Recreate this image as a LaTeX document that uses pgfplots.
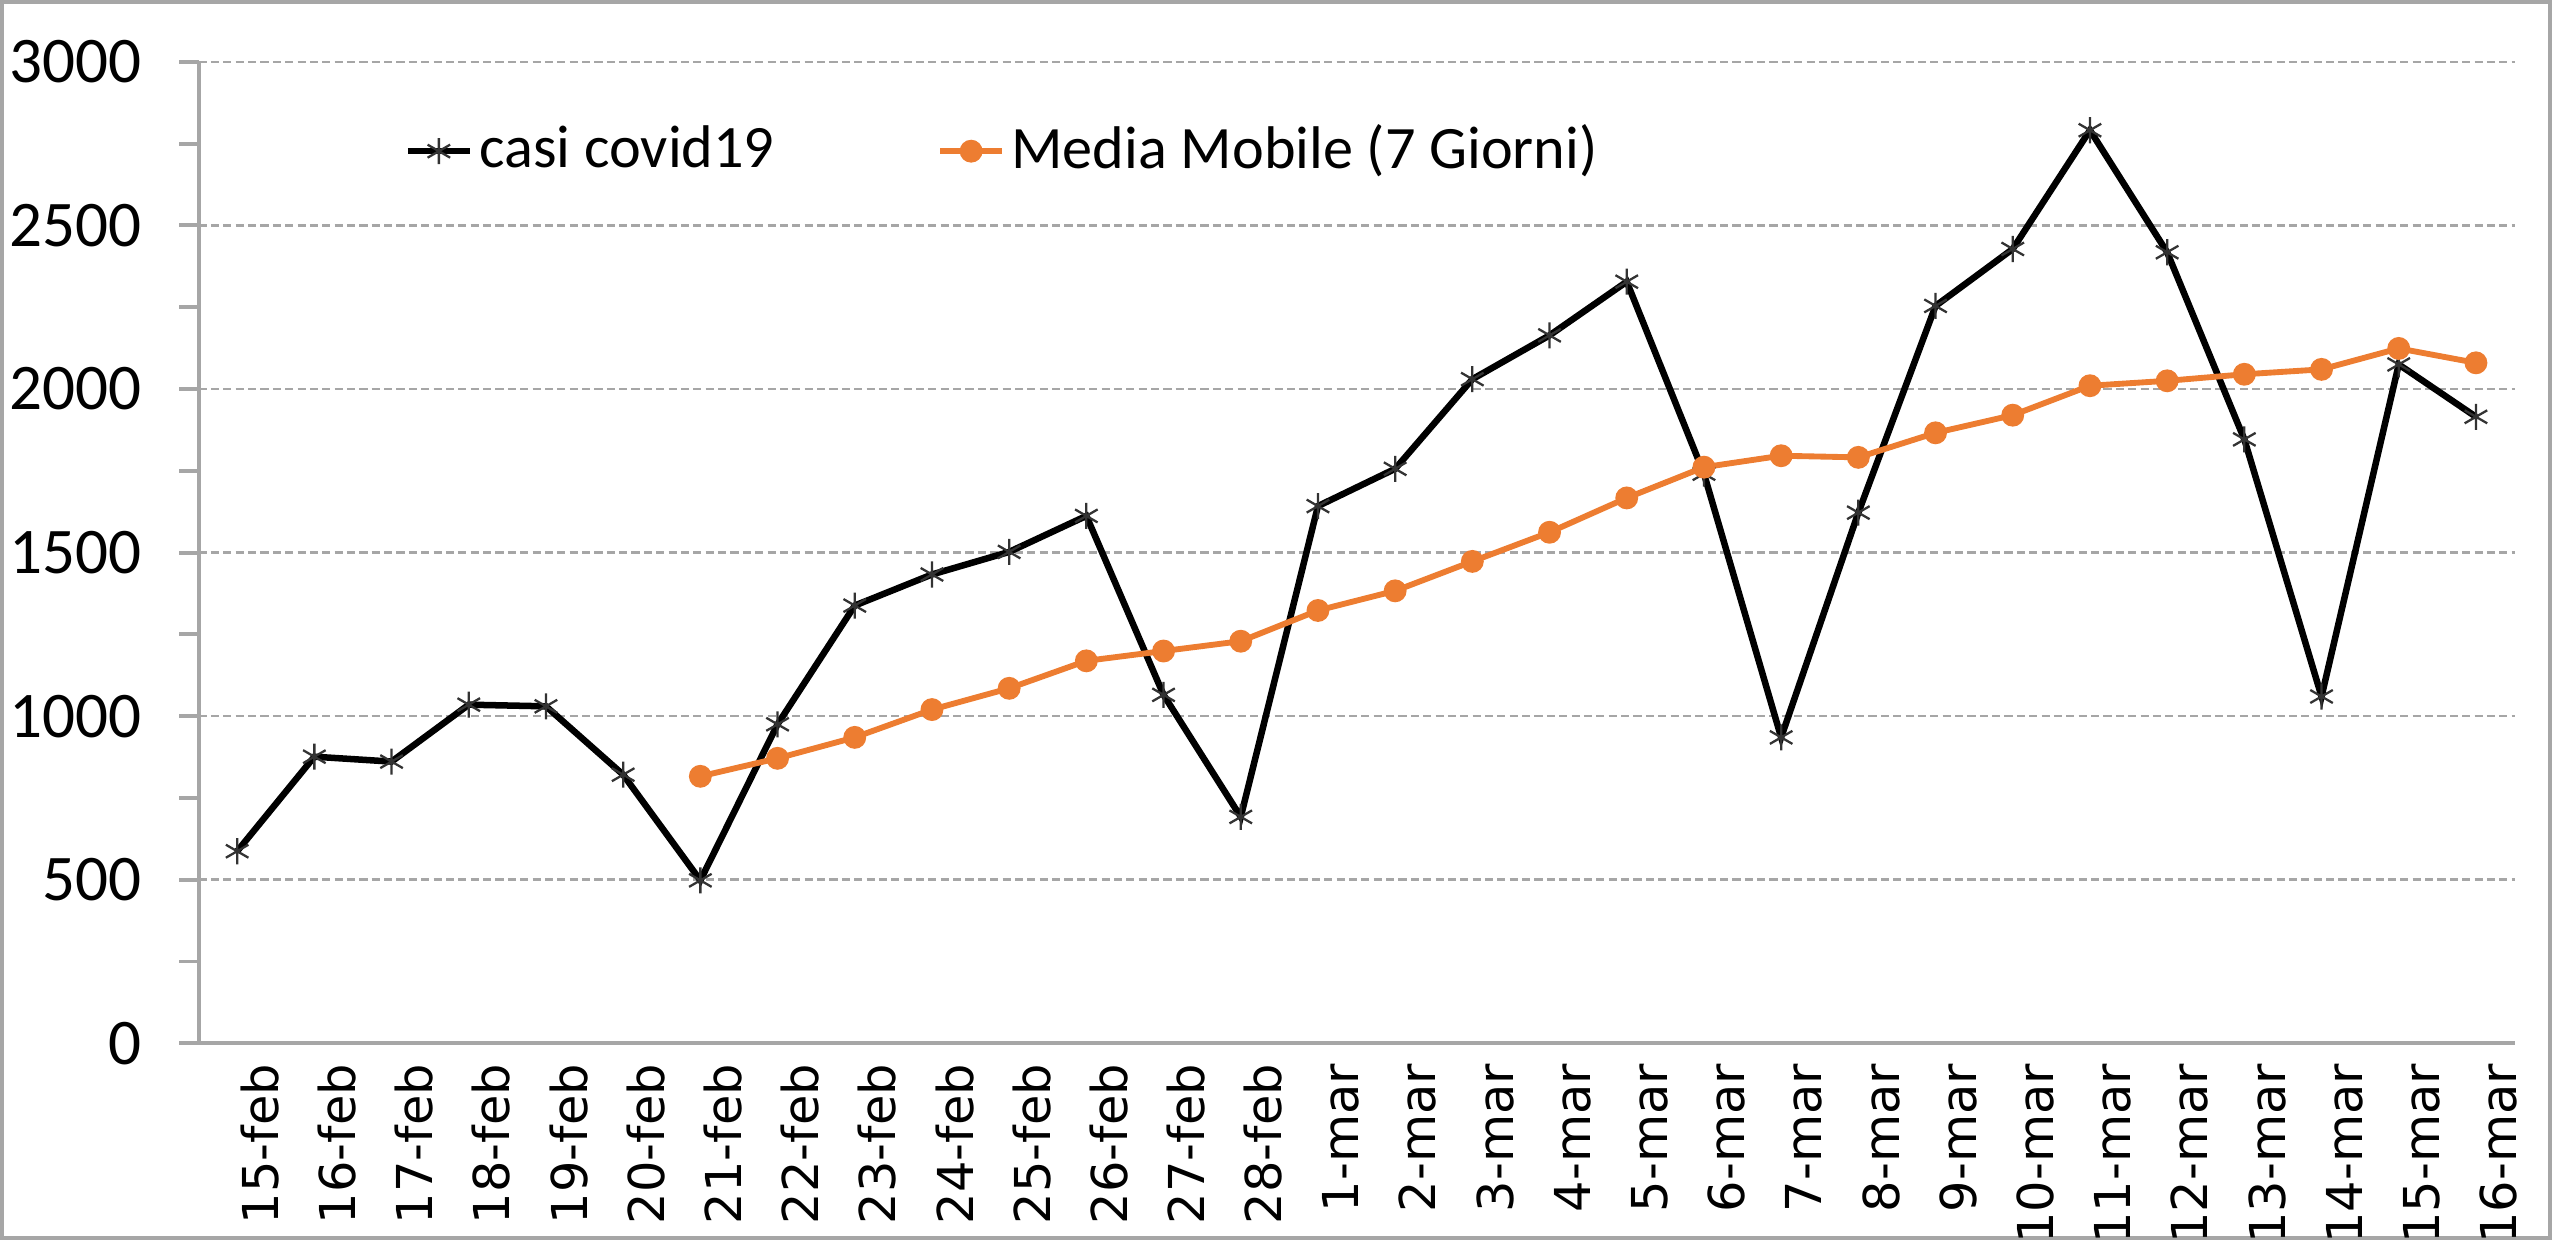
\documentclass[border=0pt]{standalone}
\usepackage{pgfplots}
\pgfplotsset{compat=1.18}
\usepackage{pgfplotstable}
\usepackage{fontspec}
\setmainfont{Carlito}
\newfontfamily\dejavu{DejaVu Sans}
\definecolor{mobile}{HTML}{ED7D31}
\definecolor{axgray}{HTML}{A6A6A6}

\pgfplotstableread{
x y
0 587
1 876
2 861
3 1035
4 1030
5 821
6 498
7 975
8 1338
9 1433
10 1502
11 1612
12 1065
13 692
14 1642
15 1756
16 2030
17 2164
18 2328
19 1741
20 935
21 1622
22 2254
23 2428
24 2791
25 2418
26 1846
27 1060
28 2075
29 1915
}\casi

\pgfplotstableread{
x y
6 816
7 871
8 935
9 1020
10 1085
11 1169
12 1199
13 1229
14 1323
15 1383
16 1473
17 1562
18 1667
19 1761
20 1796
21 1791
22 1866
23 1920
24 2010
25 2025
26 2045
27 2060
28 2124
29 2080
}\media

\begin{document}
\begin{tikzpicture}
\useasboundingbox (0,0) rectangle (392pt,190.5pt);
\draw[axgray, line width=0.6pt] (0.3pt,0.3pt) rectangle (391.7pt,190.2pt);
\begin{axis}[
  at={(30.5pt,30.25pt)}, anchor=south west,
  scale only axis, width=355.75pt, height=150.75pt,
  xmin=-0.5, xmax=29.5, ymin=0, ymax=3000,
  axis lines*=left,
  axis line style={axgray, line width=0.6pt},
  xtick={0,...,29},
  xticklabels={15-feb,16-feb,17-feb,18-feb,19-feb,20-feb,21-feb,22-feb,23-feb,24-feb,25-feb,26-feb,27-feb,28-feb,1-mar,2-mar,3-mar,4-mar,5-mar,6-mar,7-mar,8-mar,9-mar,10-mar,11-mar,12-mar,13-mar,14-mar,15-mar,16-mar},
  xtick style={draw=none},
  xticklabel style={font=\dejavu\fontsize{7.6}{8}\selectfont, rotate=90, anchor=east, inner sep=0pt, yshift=-3.5pt},
  ytick={0,500,...,3000},
  minor y tick num=1,
  tick align=outside,
  major tick length=3pt, minor tick length=3pt,
  ytick style={axgray, line width=0.6pt},
  minor y tick style={axgray, line width=0.6pt},
  yticklabel style={font=\fontsize{10}{12}\selectfont, anchor=east, inner sep=0pt, xshift=-5.5pt},
  /pgf/number format/assume math mode=true,
  /pgf/number format/1000 sep={},
  ymajorgrids,
  grid style={axgray, dash pattern=on 1.25pt off 0.65pt, line width=0.4pt},
  legend columns=2,
  legend style={draw=none, fill=none, at={(0.080,0.909)}, anchor=west,
    font=\fontsize{9.25}{11}\selectfont,
    nodes={inner sep=1pt},
    /tikz/every even column/.append style={column sep=24pt}},
  legend image code/.code={\draw[mark repeat=2,mark phase=2] plot coordinates {(0cm,0cm) (0.167cm,0cm) (0.334cm,0cm)};},
]
\addplot[black, line width=1pt, mark=asterisk, mark size=2pt, mark options={line width=0.35pt, draw=black!80}] table[x=x,y=y] {\casi};
\addlegendentry{casi covid19}
\addplot[mobile, line width=0.9pt, mark=*, mark size=1.3pt, mark options={fill=mobile, draw=mobile}] table[x=x,y=y] {\media};
\addlegendentry{Media Mobile (7 Giorni)}
\end{axis}
\end{tikzpicture}
\end{document}
